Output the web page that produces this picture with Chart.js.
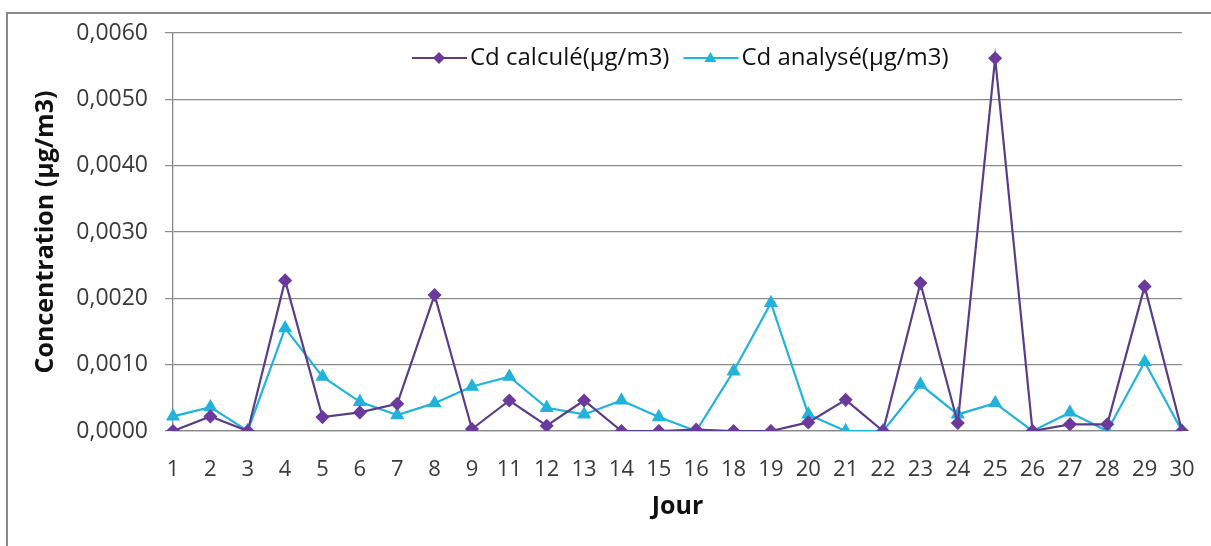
<!DOCTYPE html>
<html>
<head>
<meta charset="utf-8">
<script src="https://cdn.jsdelivr.net/npm/chart.js@4"></script>
<style>
  body { margin: 0; background: #fff; }
  #wrap { position: absolute; left: 0; top: 0; width: 1211px; height: 546px; }
  #frame { position: absolute; left: 6px; top: 12px; width: 1220px; height: 560px;
           border-left: 2px solid #8a8a8a; border-top: 2px solid #8a8a8a; }
</style>
</head>
<body>
<div id="wrap">
  <div id="frame"></div>
  <canvas id="myChart" width="1211" height="546"></canvas>
</div>
<script>
// days (10 and 17 are missing in the source)
const jours = ['1','2','3','4','5','6','7','8','9','11','12','13','14','15','16','18','19','20','21','22','23','24','25','26','27','28','29','30'];

const cdCalcule = [0, 0.00022, 0, 0.00227, 0.00021, 0.00028, 0.00041, 0.00205, 0.00003, 0.00046,
  0.00008, 0.00046, 0, 0, 0.00002, 0, 0, 0.00013, 0.00047, 0,
  0.00223, 0.00012, 0.00562, 0, 0.0001, 0.0001, 0.00218, 0];

const cdAnalyse = [0.00022, 0.00036, 0, 0.00155, 0.00082, 0.00044, 0.00024, 0.00042, 0.00067, 0.00082,
  0.00035, 0.00025, 0.00046, 0.00021, 0, 0.0009, 0.00193, 0.00025, 0, 0,
  0.0007, 0.00025, 0.00042, 0, 0.00028, 0, 0.00104, 0];

const yTicks = [0, 0.001, 0.002, 0.003, 0.004, 0.005, 0.006];

const purple = '#5b3c88';
const purpleMark = '#6b3a9c';
const cyan = '#21b3d9';

// small legend like the excel one: line with marker in the middle
const excelLegend = {
  id: 'excelLegend',
  afterDraw(chart) {
    const ctx = chart.ctx;
    const y = 58;
    let x = 412;
    ctx.save();
    ctx.font = '24px "Open Sans", sans-serif';
    ctx.textBaseline = 'middle';
    chart.data.datasets.forEach(ds => {
      ctx.strokeStyle = ds.borderColor;
      ctx.lineWidth = 2;
      ctx.beginPath();
      ctx.moveTo(x, y);
      ctx.lineTo(x + 55, y);
      ctx.stroke();
      ctx.fillStyle = ds.pointBackgroundColor;
      ctx.beginPath();
      if (ds.pointStyle === 'triangle') {
        ctx.moveTo(x + 27, y - 6);
        ctx.lineTo(x + 33, y + 4);
        ctx.lineTo(x + 21, y + 4);
      } else {
        ctx.moveTo(x + 27, y - 6);
        ctx.lineTo(x + 33, y);
        ctx.lineTo(x + 27, y + 6);
        ctx.lineTo(x + 21, y);
      }
      ctx.closePath();
      ctx.fill();
      ctx.fillStyle = '#111';
      ctx.fillText(ds.label, x + 58, y);
      x += 58 + ctx.measureText(ds.label).width + 14;
    });
    ctx.restore();
  }
};

const myChart = document.getElementById('myChart');

new Chart(myChart, {
  type: 'line',
  data: {
    labels: jours,
    datasets: [{
      label: 'Cd calculé(µg/m3)',
      data: cdCalcule,
      borderColor: purple,
      borderWidth: 2.2,
      pointStyle: 'rectRot',
      pointRadius: 5.5,
      pointBackgroundColor: purpleMark,
      pointBorderColor: purpleMark,
      tension: 0
    }, {
      label: 'Cd analysé(µg/m3)',
      data: cdAnalyse,
      borderColor: cyan,
      borderWidth: 2.2,
      pointStyle: 'triangle',
      pointRadius: 6,
      pointBackgroundColor: cyan,
      pointBorderColor: cyan,
      tension: 0
    }]
  },
  options: {
    responsive: false,
    animation: false,
    layout: { padding: { left: 31, right: 29, top: 33, bottom: 24 } },
    plugins: {
      legend: { display: false },
      tooltip: { enabled: false }
    },
    scales: {
      x: {
        offset: false,
        grid: { display: false, drawTicks: true, tickLength: 10, color: '#888' },
        border: { color: '#888', width: 1.3 },
        ticks: {
          color: '#3a3a3a',
          font: { family: '"Open Sans", sans-serif', size: 22 },
          maxRotation: 0,
          autoSkip: false,
          padding: 16
        },
        title: {
          display: true,
          text: 'Jour',
          color: '#111',
          font: { family: '"Open Sans", sans-serif', size: 25, weight: 'bold' },
          padding: { top: 0, bottom: 0 }
        },
        afterFit(scale) { scale.height = 91; }
      },
      y: {
        min: 0,
        max: 0.006,
        afterBuildTicks(scale) { scale.ticks = yTicks.map(v => ({ value: v })); },
        grid: { color: '#8c8c8c', lineWidth: 1.2, tickLength: 8 },
        border: { color: '#888', width: 1.3 },
        ticks: {
          color: '#3a3a3a',
          font: { family: '"Open Sans", sans-serif', size: 23 },
          padding: 17,
          callback: v => v.toFixed(4).replace('.', ',')
        },
        title: {
          display: true,
          text: 'Concentration (µg/m3)',
          color: '#111',
          font: { family: '"Open Sans", sans-serif', size: 25, weight: 'bold' },
          padding: { top: 0, bottom: 0 }
        },
        afterFit(scale) { scale.width = 142; }
      }
    }
  },
  plugins: [excelLegend]
});
</script>
</body>
</html>
